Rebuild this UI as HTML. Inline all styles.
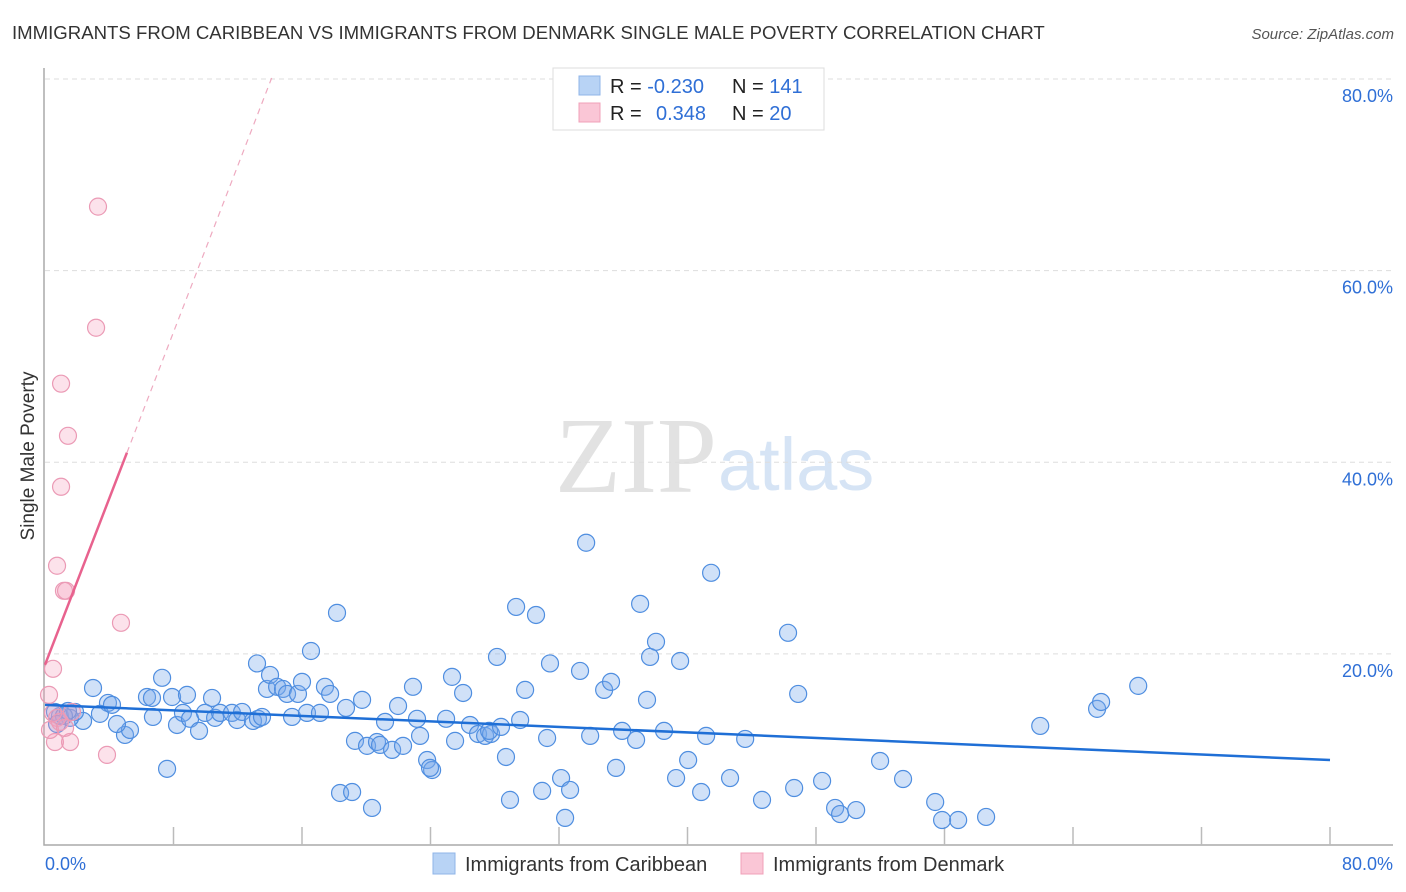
<!DOCTYPE html>
<html><head><meta charset="utf-8"><style>
body{margin:0;background:#fff;font-family:"Liberation Sans",sans-serif;}
svg{display:block}
</style></head><body>
<svg id="chart" width="1406" height="892" xmlns="http://www.w3.org/2000/svg">
<text x="12" y="39" font-size="18.6" fill="#333">IMMIGRANTS FROM CARIBBEAN VS IMMIGRANTS FROM DENMARK SINGLE MALE POVERTY CORRELATION CHART</text>
<text x="1394" y="39" font-size="15" fill="#555" font-style="italic" text-anchor="end">Source: ZipAtlas.com</text>
<g>
<text x="555" y="492" font-family="Liberation Serif,serif" font-size="108" fill="#e2e2e2">ZIP</text>
<text x="718" y="490" font-size="74" fill="#d6e4f5">atlas</text>
</g>
<text transform="translate(34,456) rotate(-90)" font-size="19" fill="#333" text-anchor="middle">Single Male Poverty</text>
<g id="grid"></g><g id="axes"></g><g id="pts"></g><g id="trend"></g>
<g>
<rect x="553" y="68" width="271" height="62" fill="#fff" stroke="#ddd"/>
<rect x="579" y="76" width="21" height="19" fill="#b8d3f5" stroke="#8fb4e8"/>
<rect x="579" y="103" width="21" height="19" fill="#fac6d6" stroke="#f0a0b8"/>
<text x="610" y="93" font-size="20" fill="#222">R = <tspan fill="#2f6fd6">-0.230</tspan><tspan x="732">N = </tspan><tspan fill="#2f6fd6">141</tspan></text>
<text x="610" y="120" font-size="20" fill="#222">R = <tspan x="656" fill="#2f6fd6">0.348</tspan><tspan x="732">N = </tspan><tspan fill="#2f6fd6"> 20</tspan></text>
</g>
<g>
<rect x="433" y="853" width="22" height="21" fill="#b8d3f5" stroke="#8fb4e8"/>
<text x="465" y="871" font-size="20" fill="#333">Immigrants from Caribbean</text>
<rect x="741" y="853" width="22" height="21" fill="#fac6d6" stroke="#f0a0b8"/>
<text x="773" y="871" font-size="20" fill="#333">Immigrants from Denmark</text>
</g>
</svg>
<script>
const yTicks=[20,40,60,80];
const yTickLabels=["20.0%","40.0%","60.0%","80.0%"];
const xTickLabels=["0.0%","80.0%"];
const blueX=[2.99,3.92,3.42,4.17,4.98,5.29,4.48,2.37,0.93,1.56,1.87,0.62,7.29,6.35,6.66,7.91,8.84,10.40,6.72,7.60,8.22,8.59,9.03,9.59,9.96,10.59,10.90,11.64,11.96,12.27,12.95,13.26,13.51,13.20,13.82,14.01,14.45,14.82,15.07,15.75,16.00,15.38,16.56,16.31,17.12,17.43,17.75,18.18,18.74,19.30,19.74,18.37,19.12,20.05,20.36,20.67,20.86,21.17,21.61,21.98,22.29,22.91,23.35,23.16,23.79,24.10,23.97,24.97,25.34,25.53,26.03,26.46,26.96,27.40,27.77,27.65,28.14,28.39,28.70,28.95,29.33,29.58,29.89,30.57,30.95,31.26,31.44,32.13,32.38,32.69,33.31,33.69,33.94,34.81,35.24,35.55,35.93,36.80,37.05,37.48,37.67,38.04,38.54,39.29,39.54,40.04,40.85,41.16,41.47,42.65,43.59,44.64,46.26,46.64,46.89,48.38,49.19,49.50,50.50,51.99,53.42,55.42,55.85,56.85,58.59,61.96,65.50,65.75,68.06,1.18,1.43,0.75];
const blueY=[16.44,14.88,13.74,14.68,11.54,12.06,12.68,13.00,13.52,13.32,13.94,13.94,17.50,15.50,15.40,15.50,15.72,15.40,13.42,8.00,12.58,13.84,13.22,11.96,13.84,13.32,13.84,13.84,13.10,13.94,13.00,13.22,13.42,19.00,16.34,17.80,16.56,16.34,15.82,15.82,17.08,13.42,20.30,13.84,13.84,16.56,15.82,24.28,14.36,10.92,15.20,5.48,5.58,10.40,3.92,10.80,10.50,12.90,9.98,14.56,10.40,16.56,11.44,13.22,8.92,7.88,8.10,13.22,17.60,10.92,15.92,12.58,11.64,11.44,11.64,11.96,19.68,12.38,9.24,4.76,24.90,13.10,16.24,24.06,5.70,11.22,19.00,7.04,2.88,5.80,18.22,31.60,11.44,16.24,17.08,8.10,11.96,11.02,25.22,15.20,19.68,21.26,11.96,7.04,19.26,8.92,5.58,11.44,28.46,7.04,11.12,4.76,22.20,6.00,15.82,6.74,3.92,3.28,3.70,8.82,6.94,4.54,2.66,2.66,2.98,12.48,14.26,14.98,16.66,13.52,14.04,12.68];
const pinkX=[3.30,3.18,1.00,1.43,1.00,0.75,1.18,1.31,4.73,0.50,0.25,0.50,0.75,0.93,0.62,1.56,1.68,3.86,0.31,1.25];
const pinkY=[66.68,54.04,48.20,42.76,37.44,29.20,26.58,26.58,23.24,18.44,15.72,13.84,13.32,12.90,10.80,10.80,13.94,9.46,12.06,12.28];
const blueTrend=[14.68,8.92];
const pinkTrend=[18.86,4.34];
const NS="http://www.w3.org/2000/svg";
const X0=45,XW=1285,Y0=845.5,YH=766.5;
const sx=v=>X0+v/80*XW, sy=v=>Y0-v/80*YH;
function mk(t,a,p){const e=document.createElementNS(NS,t);for(const k in a)e.setAttribute(k,a[k]);document.getElementById(p).appendChild(e);return e;}
yTicks.forEach((v,i)=>{
 const l=mk('line',{x1:45,x2:1393,y1:sy(v),y2:sy(v),stroke:'#ddd','stroke-dasharray':'5,4'},'grid');
 
 
 const t=mk('text',{x:1393,y:sy(v)+23,'font-size':18,fill:'#2f6fd6','text-anchor':'end'},'grid');
 t.textContent=yTickLabels[i];
 
 
});
const ax=mk('path',{d:`M44,68 V845 H1393`,stroke:'#aaa',fill:'none','stroke-width':1.5},'axes');


for(let i=1;i<=10;i++){const tk=mk('line',{x1:sx(i*8),x2:sx(i*8),y1:827,y2:845,stroke:'#bbb','stroke-width':1.5},'axes');
 
 }
const xl0=mk('text',{x:45,y:870,'font-size':18,fill:'#2f6fd6'},'axes');xl0.textContent=xTickLabels[0];


const xl1=mk('text',{x:1393,y:870,'font-size':18,fill:'#2f6fd6','text-anchor':'end'},'axes');xl1.textContent=xTickLabels[1];


blueX.forEach((v,i)=>{const c=mk('circle',{cx:sx(v),cy:sy(blueY[i]),r:8.5,fill:'rgba(120,170,235,0.35)',stroke:'#4f8ee0','stroke-width':1.2},'pts');
 
 });
pinkX.forEach((v,i)=>{const c=mk('circle',{cx:sx(v),cy:sy(pinkY[i]),r:8.5,fill:'rgba(245,160,190,0.3)',stroke:'#eb9ab5','stroke-width':1.2},'pts');
 
 });
const bt=mk('line',{x1:sx(0),y1:sy(blueTrend[0]),x2:sx(80),y2:sy(blueTrend[1]),stroke:'#1f6fd6','stroke-width':2.5},'trend');


const pe=5.1, pd=(80/766.5*(Y0-78)-pinkTrend[0])/pinkTrend[1];
const pt=mk('line',{x1:sx(0),y1:sy(pinkTrend[0]),x2:sx(pe),y2:sy(pinkTrend[0]+pinkTrend[1]*pe),stroke:'#e8628e','stroke-width':2.5},'trend');


const pdl=mk('line',{x1:sx(pe),y1:sy(pinkTrend[0]+pinkTrend[1]*pe),x2:sx(pd),y2:sy(pinkTrend[0]+pinkTrend[1]*pd),stroke:'#eeaac0','stroke-width':1.2,'stroke-dasharray':'6,5'},'trend');


</script>
</body></html>
